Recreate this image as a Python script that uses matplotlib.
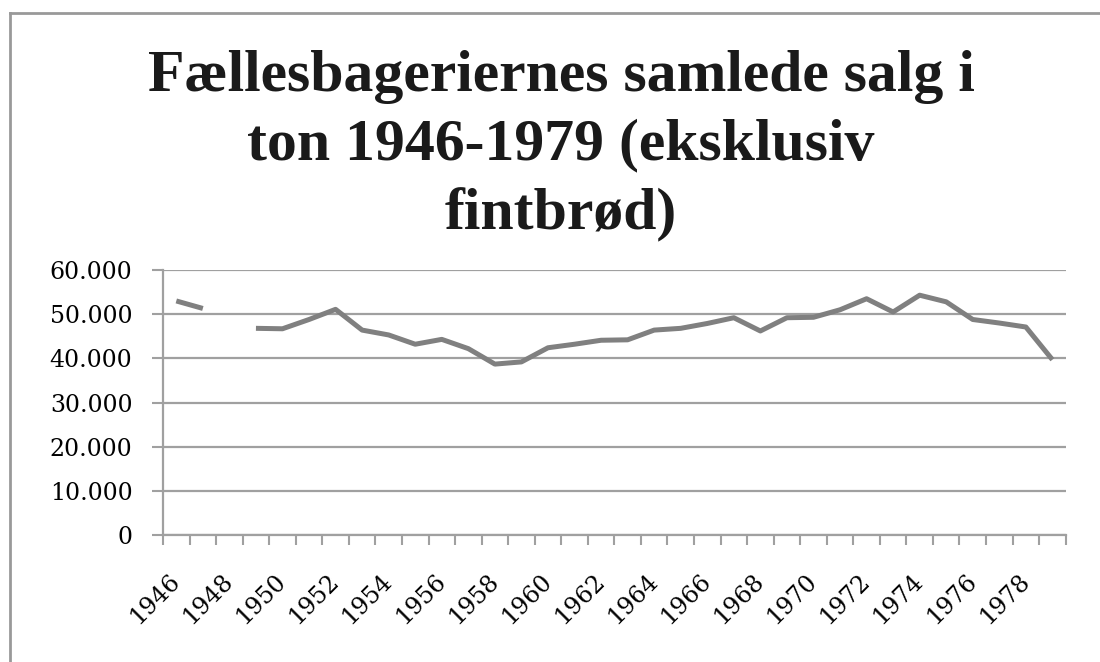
import matplotlib.pyplot as plt
import numpy as np
from matplotlib.ticker import FuncFormatter
from matplotlib.lines import Line2D

years = list(range(1946, 1980))
salg = [53000, 51300, np.nan, 46800, 46700, 48800, 51100, 46400, 45300, 43200,
        44300, 42200, 38700, 39200, 42400, 43200, 44100, 44200, 46400, 46800,
        47900, 49200, 46200, 49200, 49300, 51000, 53500, 50500, 54300, 52800,
        48800, 48000, 47100, 39700]
title = "Fællesbageriernes samlede salg i\nton 1946-1979 (eksklusiv\nfintbrød)"

plt.rcParams['font.family'] = ['DejaVu Serif']

fig = plt.figure(figsize=(11, 6.62), dpi=100)
ax = fig.add_axes([0.1482, 0.1918, 0.9688 - 0.1482, 0.5921 - 0.1918])

x = np.arange(len(years))
ax.plot(x, salg, color='#808080', linewidth=3.6, solid_capstyle='butt')

ax.set_xlim(-0.5, len(years) - 0.5)
ax.set_ylim(0, 60000)
ax.set_yticks(np.arange(0, 60001, 10000))
ax.yaxis.set_major_formatter(FuncFormatter(lambda v, p: f"{int(v):,}".replace(",", ".")))
ax.grid(axis='y', color='#a0a0a0', linewidth=1.6)
ax.set_axisbelow(True)

# category boundaries get the tick marks, labels sit on every second year
ax.set_xticks(np.arange(-0.5, len(years), 1.0))
ax.set_xticklabels([])
ax.set_xticks(x[::2], minor=True)
ax.set_xticklabels([str(y) for y in years[::2]], minor=True, rotation=45,
                   ha='right', va='center', rotation_mode='anchor', fontsize=17)
ax.tick_params(axis='x', which='minor', length=0, pad=31)
ax.tick_params(axis='x', which='major', length=7, width=1.5, color='#a0a0a0')
ax.tick_params(axis='y', length=8, width=1.5, color='#a0a0a0', labelsize=17, pad=14)

for s in ['top', 'right']:
    ax.spines[s].set_visible(False)
for s in ['left', 'bottom']:
    ax.spines[s].set_color('#a0a0a0')
    ax.spines[s].set_linewidth(1.6)

fig.text(0.51, 0.925, title, ha='center', va='top', fontsize=43,
         fontweight='bold', linespacing=1.36, color='#1a1a1a',
         family='Liberation Serif')

# outer chart frame (only left and top edges are visible in the crop)
fig.add_artist(Line2D([10 / 1100, 10 / 1100], [0, 1 - 13 / 662], color='#999999', linewidth=2))
fig.add_artist(Line2D([10 / 1100, 1], [1 - 13 / 662, 1 - 13 / 662], color='#999999', linewidth=2))

fig.savefig("out.png", dpi=100)
